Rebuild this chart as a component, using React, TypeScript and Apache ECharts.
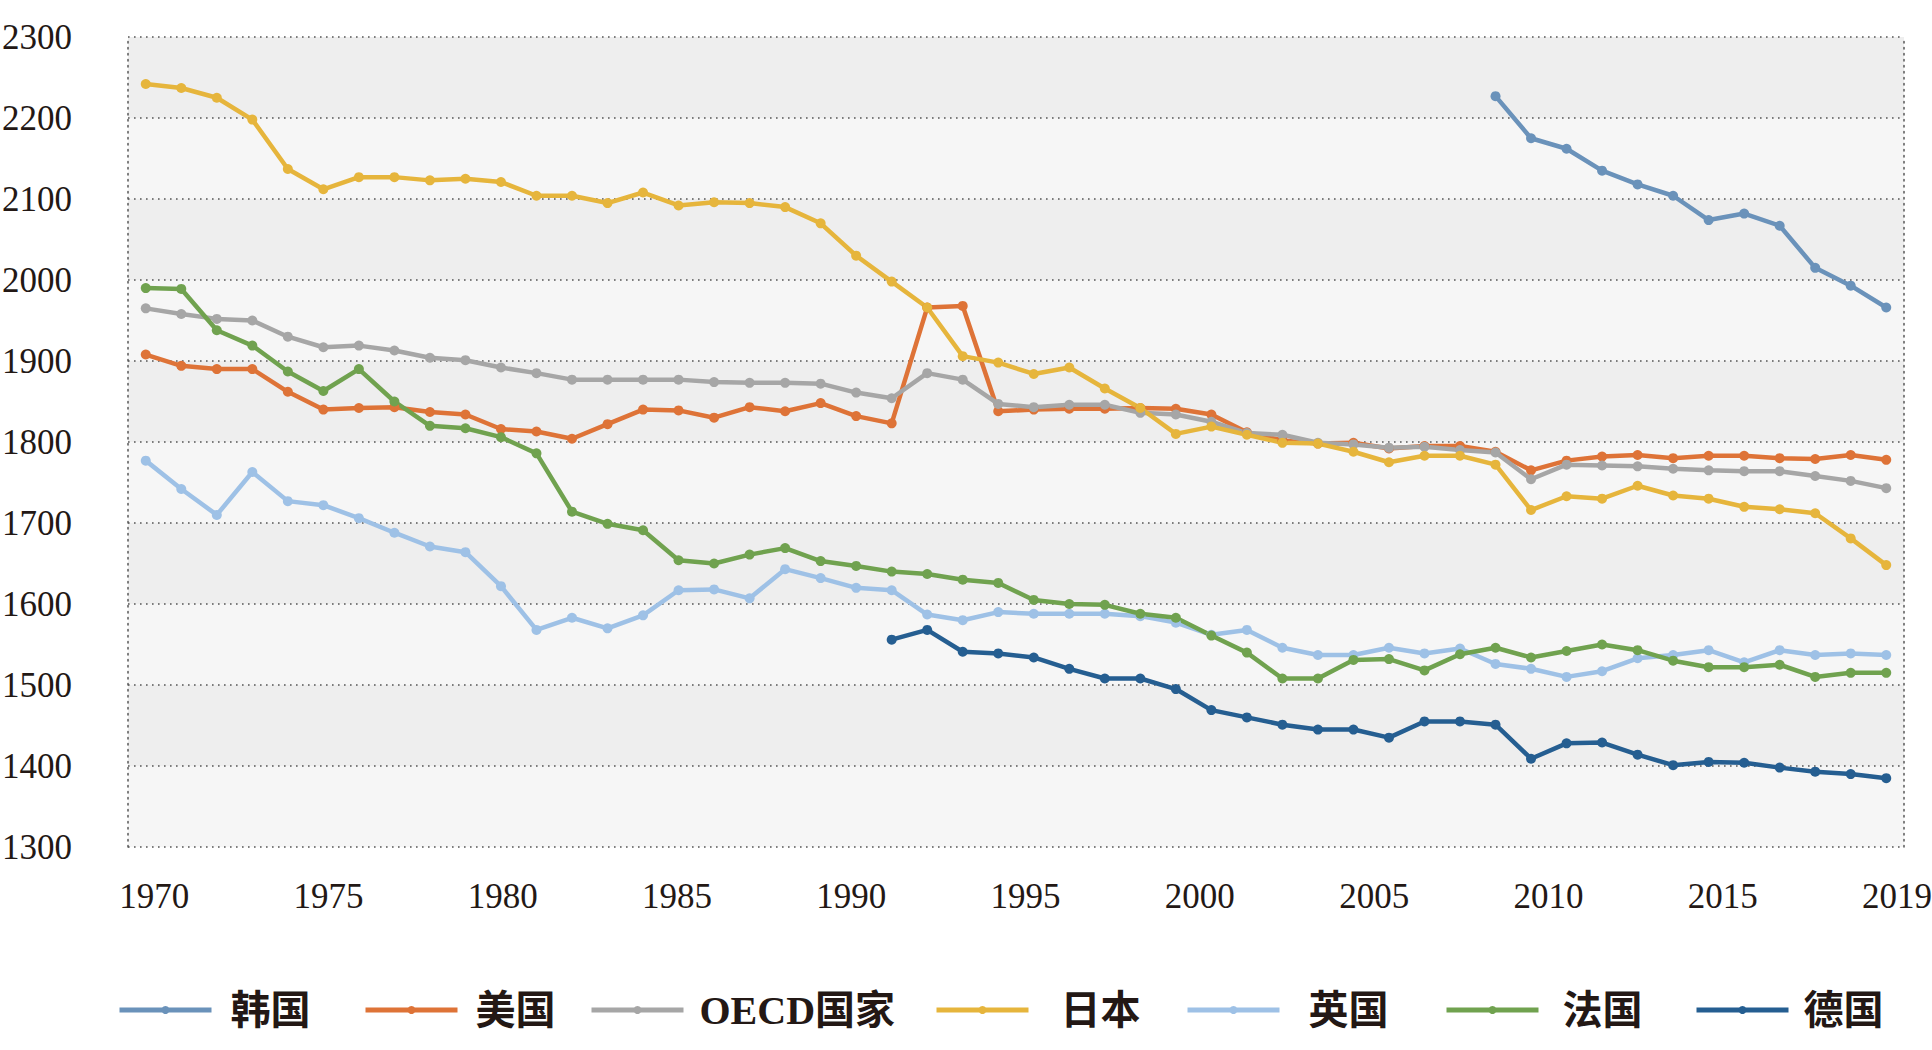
import React, { useEffect, useRef } from "react";
import * as echarts from "echarts";

const FIRST_YEAR = 1970;
const YEARS: string[] = Array.from({ length: 50 }, (_, i) => String(FIRST_YEAR + i));

const X_TICK_POS = [1970, 1975, 1980, 1985, 1990, 1995, 2000, 2005, 2010, 2015, 2020];
const X_TICK_LABELS = ["1970", "1975", "1980", "1985", "1990", "1995", "2000", "2005", "2010", "2015", "2019"];

const Y_MIN = 1300;
const Y_MAX = 2300;
const Y_STEP = 100;

// 韩国 from 2008
const KOREA_START = 2008;
const KOREA = [2227, 2175, 2162, 2135, 2118, 2104, 2074, 2082, 2067, 2015, 1993, 1966];

const USA = [
  1908, 1894, 1890, 1890, 1862, 1840, 1842, 1843, 1837, 1834,
  1816, 1813, 1804, 1822, 1840, 1839, 1830, 1843, 1838, 1848,
  1832, 1823, 1966, 1968, 1838, 1840, 1841, 1841, 1842, 1841,
  1834, 1812, 1802, 1798, 1799, 1792, 1795, 1795, 1788, 1765,
  1777, 1782, 1784, 1780, 1783, 1783, 1780, 1779, 1784, 1778,
];

const OECD = [
  1965, 1958, 1952, 1950, 1930, 1917, 1919, 1913, 1904, 1901,
  1892, 1885, 1877, 1877, 1877, 1877, 1874, 1873, 1873, 1872,
  1861, 1854, 1885, 1877, 1847, 1843, 1846, 1846, 1836, 1834,
  1825, 1811, 1809, 1799, 1797, 1793, 1794, 1790, 1787, 1754,
  1772, 1771, 1770, 1767, 1765, 1764, 1764, 1758, 1752, 1743,
];

const JAPAN = [
  2242, 2237, 2225, 2198, 2137, 2112, 2127, 2127, 2123, 2125,
  2121, 2104, 2104, 2095, 2108, 2092, 2096, 2095, 2090, 2070,
  2030, 1998, 1966, 1906, 1898, 1884, 1892, 1866, 1842, 1810,
  1819, 1809, 1799, 1798, 1788, 1775, 1783, 1783, 1772, 1716,
  1733, 1730, 1746, 1734, 1730, 1720, 1717, 1712, 1681, 1648,
];

const UK = [
  1777, 1742, 1710, 1763, 1727, 1722, 1706, 1688, 1671, 1664,
  1622, 1568, 1583, 1570, 1586, 1617, 1618, 1607, 1643, 1632,
  1620, 1617, 1587, 1580, 1590, 1588, 1588, 1588, 1585, 1577,
  1562, 1568, 1546, 1537, 1537, 1546, 1539, 1545, 1526, 1520,
  1510, 1517, 1533, 1537, 1543, 1528, 1543, 1537, 1539, 1537,
];

const FRANCE = [
  1990, 1989, 1938, 1919, 1887, 1863, 1890, 1850, 1820, 1817,
  1806, 1786, 1714, 1699, 1691, 1654, 1650, 1661, 1669, 1653,
  1647, 1640, 1637, 1630, 1626, 1605, 1600, 1599, 1588, 1583,
  1561, 1540, 1508, 1508, 1531, 1532, 1518, 1538, 1546, 1534,
  1542, 1550, 1543, 1530, 1522, 1522, 1525, 1510, 1515, 1515,
];

// 德国 from 1991
const GERMANY_START = 1991;
const GERMANY = [
  1556, 1568, 1541, 1539, 1534, 1520, 1508, 1508, 1495,
  1469, 1460, 1451, 1445, 1445, 1435, 1455, 1455, 1451, 1409,
  1428, 1429, 1414, 1401, 1405, 1404, 1398, 1393, 1390, 1385,
];

const pad = (start: number, vals: number[]) =>
  YEARS.map((y) => {
    const idx = Number(y) - start;
    return idx >= 0 && idx < vals.length ? vals[idx] : null;
  });

const SERIES = [
  { name: "韩国", data: pad(KOREA_START, KOREA), color: "#6a92ba" },
  { name: "美国", data: USA, color: "#de7337" },
  { name: "OECD国家", data: OECD, color: "#a6a6a6" },
  { name: "日本", data: JAPAN, color: "#e6b53c" },
  { name: "英国", data: UK, color: "#9ec1e6" },
  { name: "法国", data: FRANCE, color: "#70a24f" },
  { name: "德国", data: pad(GERMANY_START, GERMANY), color: "#255e91" },
];

const LEGEND_LEFT = [117, 363, 589, 934, 1185, 1444, 1694];
const LEGEND_TEXT_GAP = [14, 13, 11, 27, 24, 19, 10];

const TEXT_COLOR = "#231815";
const SERIF = "'Liberation Serif', 'Noto Sans CJK SC', serif";
const DOT: [number, number] = [1.6, 4.4];

export default function App() {
  const ref = useRef<HTMLDivElement>(null);

  useEffect(() => {
    document.body.style.margin = "0";
    if (!ref.current) return;
    const chart = echarts.init(ref.current, undefined, { renderer: "svg" });

    const gridLine = { color: "#555555", width: 1.5, type: DOT };

    chart.setOption({
      animation: false,
      backgroundColor: "#ffffff",
      grid: {
        left: 128,
        right: 28,
        top: 37,
        bottom: 203,
        containLabel: false,
        outerBoundsMode: "none",
      },
      xAxis: [
        {
          type: "category",
          data: YEARS,
          boundaryGap: true,
          axisLine: { show: false },
          axisTick: { show: false },
          axisLabel: { show: false },
          splitLine: { show: false },
        },
        {
          type: "value",
          position: "bottom",
          min: 1969.25,
          max: 2020.2,
          axisLine: { show: false },
          axisTick: { show: false },
          splitLine: { show: false },
          axisLabel: {
            customValues: X_TICK_POS,
            formatter: (v: number) => {
              const i = X_TICK_POS.indexOf(Math.round(v));
              return i >= 0 ? X_TICK_LABELS[i] : "";
            },
            margin: 32,
            fontSize: 35,
            color: TEXT_COLOR,
            fontFamily: SERIF,
          },
        },
      ],
      yAxis: [
        {
          type: "value",
          min: Y_MIN,
          max: Y_MAX,
          interval: Y_STEP,
          axisLine: { show: true, lineStyle: gridLine },
          axisTick: { show: false },
          axisLabel: {
            margin: 56,
            fontSize: 35,
            color: TEXT_COLOR,
            fontFamily: SERIF,
            formatter: (v: number) => String(v),
          },
          splitLine: { show: true, lineStyle: gridLine },
          splitArea: { show: true, areaStyle: { color: ["#f6f6f6", "#eeeeee"] } },
        },
        {
          type: "value",
          position: "right",
          min: Y_MIN,
          max: Y_MAX,
          interval: Y_STEP,
          axisLine: { show: true, lineStyle: gridLine },
          axisTick: { show: false },
          axisLabel: { show: false },
          splitLine: { show: false },
        },
      ],
      legend: SERIES.map((s, i) => ({
        data: [s.name],
        left: LEGEND_LEFT[i],
        top: 990,
        padding: 0,
        itemWidth: 92,
        itemHeight: 10,
        lineStyle: { width: 5 },
        textStyle: {
          fontSize: 40,
          fontWeight: "bold",
          color: TEXT_COLOR,
          fontFamily: SERIF,
          padding: [0, 0, 0, LEGEND_TEXT_GAP[i]],
        },
      })),
      series: SERIES.map((s) => ({
        name: s.name,
        type: "line",
        xAxisIndex: 0,
        yAxisIndex: 0,
        data: s.data,
        connectNulls: false,
        symbol: "circle",
        symbolSize: 10,
        lineStyle: { width: 4.5, color: s.color },
        itemStyle: { color: s.color },
        emphasis: { disabled: true },
      })),
    });

    return () => chart.dispose();
  }, []);

  return (
    <div
      ref={ref}
      style={{ position: "absolute", left: 0, top: 0, width: 1932, height: 1050 }}
    />
  );
}
